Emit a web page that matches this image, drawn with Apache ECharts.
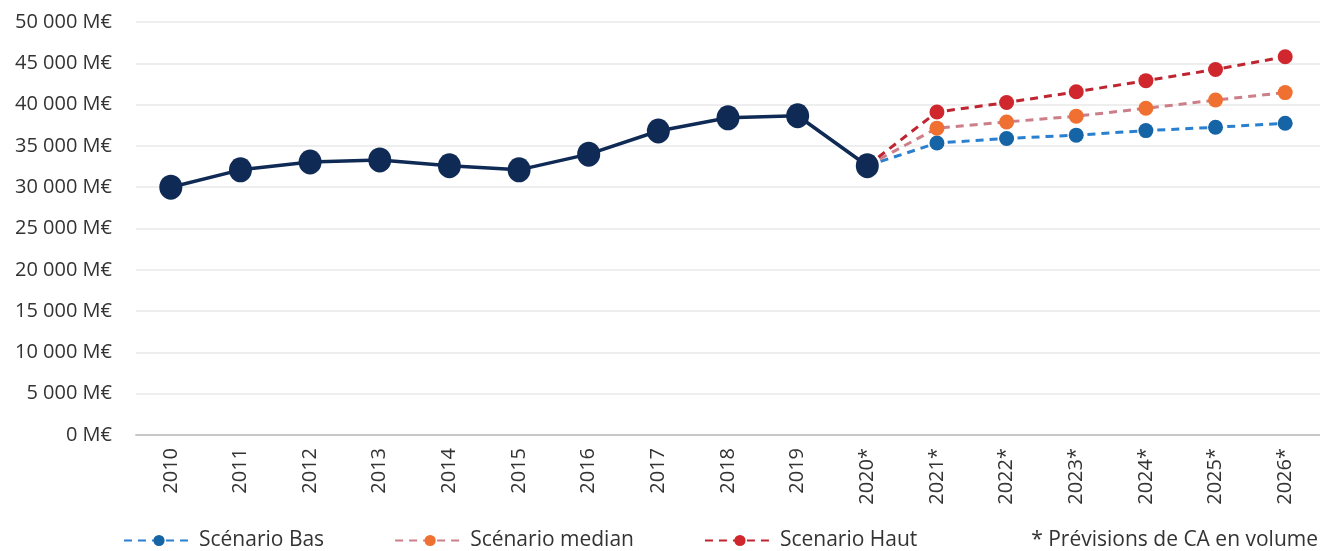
<!DOCTYPE html>
<html>
<head>
<meta charset="utf-8">
<script src="https://cdn.jsdelivr.net/npm/echarts@6/dist/echarts.min.js"></script>
<style>
  html, body { margin: 0; padding: 0; background: #fff; }
  #chart { width: 1320px; height: 551px; }
</style>
</head>
<body>
<div id="chart"></div>
<script>
// catégories (années) et valeurs en M€
var annees = ['2010', '2011', '2012', '2013', '2014', '2015', '2016', '2017', '2018', '2019',
              '2020*', '2021*', '2022*', '2023*', '2024*', '2025*', '2026*'];
var historique = [30000, 32100, 33050, 33300, 32600, 32100, 34000, 36800, 38400, 38650, 32600,
                  '-', '-', '-', '-', '-', '-'];
var scenarioBas = ['-', '-', '-', '-', '-', '-', '-', '-', '-', '-',
                   32600, 35350, 35900, 36300, 36850, 37250, 37750];
var scenarioMedian = ['-', '-', '-', '-', '-', '-', '-', '-', '-', '-',
                      32600, 37150, 37900, 38600, 39550, 40550, 41450];
var scenarioHaut = ['-', '-', '-', '-', '-', '-', '-', '-', '-', '-',
                    32600, 39100, 40250, 41550, 42900, 44250, 45800];
var noteTexte = '* Prévisions de CA en volume';

var myChart = echarts.init(document.getElementById('chart'));

function formatME(v) {
    return String(v).replace(/\B(?=(\d{3})+(?!\d))/g, ' ') + ' M€';
}

var police = '"Open Sans", "Noto Sans", sans-serif';

var option = {
    backgroundColor: '#fff',
    animation: false,
    textStyle: { fontFamily: police },
    grid: { left: 136, right: 0, top: 22, bottom: 116 },
    legend: {
        data: ['Scénario Bas', 'Scénario median', 'Scenario Haut'],
        left: 118,
        bottom: -5,
        itemWidth: 70,
        itemHeight: 14,
        itemGap: 70,
        textStyle: { fontSize: 21, color: '#333', fontFamily: police }
    },
    graphic: [{
        type: 'text',
        right: 2,
        bottom: 0,
        style: { text: noteTexte, fontSize: 21, fill: '#333', fontFamily: police }
    }],
    xAxis: {
        type: 'category',
        data: annees,
        boundaryGap: true,
        axisLine: { lineStyle: { color: '#c8c8c8', width: 2 } },
        axisTick: { show: false },
        axisLabel: { rotate: 90, color: '#333', fontSize: 20, margin: 13, interval: 0 }
    },
    yAxis: {
        type: 'value',
        min: 0,
        max: 50000,
        interval: 5000,
        axisLine: { show: false },
        axisTick: { show: false },
        splitLine: { lineStyle: { color: '#e8e8e8', width: 1.5 } },
        axisLabel: { color: '#333', fontSize: 20, margin: 24, formatter: formatME }
    },
    series: [
        {
            name: 'Historique',
            type: 'line',
            data: historique,
            symbol: 'circle',
            symbolSize: [23, 25],
            z: 5,
            itemStyle: { color: '#0f2a55' },
            lineStyle: { color: '#0f2a55', width: 3.5 }
        },
        {
            name: 'Scénario Bas',
            type: 'line',
            data: scenarioBas,
            symbol: 'circle',
            symbolSize: 15,
            itemStyle: { color: '#1464a6' },
            lineStyle: { color: '#2a7fcf', width: 3, type: [8, 6] }
        },
        {
            name: 'Scénario median',
            type: 'line',
            data: scenarioMedian,
            symbol: 'circle',
            symbolSize: 15,
            itemStyle: { color: '#ef7030' },
            lineStyle: { color: '#cc7f88', width: 3, type: [8, 6] }
        },
        {
            name: 'Scenario Haut',
            type: 'line',
            data: scenarioHaut,
            symbol: 'circle',
            symbolSize: 15,
            itemStyle: { color: '#d0262d' },
            lineStyle: { color: '#bf2530', width: 3, type: [8, 6] }
        }
    ]
};

myChart.setOption(option);
</script>
</body>
</html>
